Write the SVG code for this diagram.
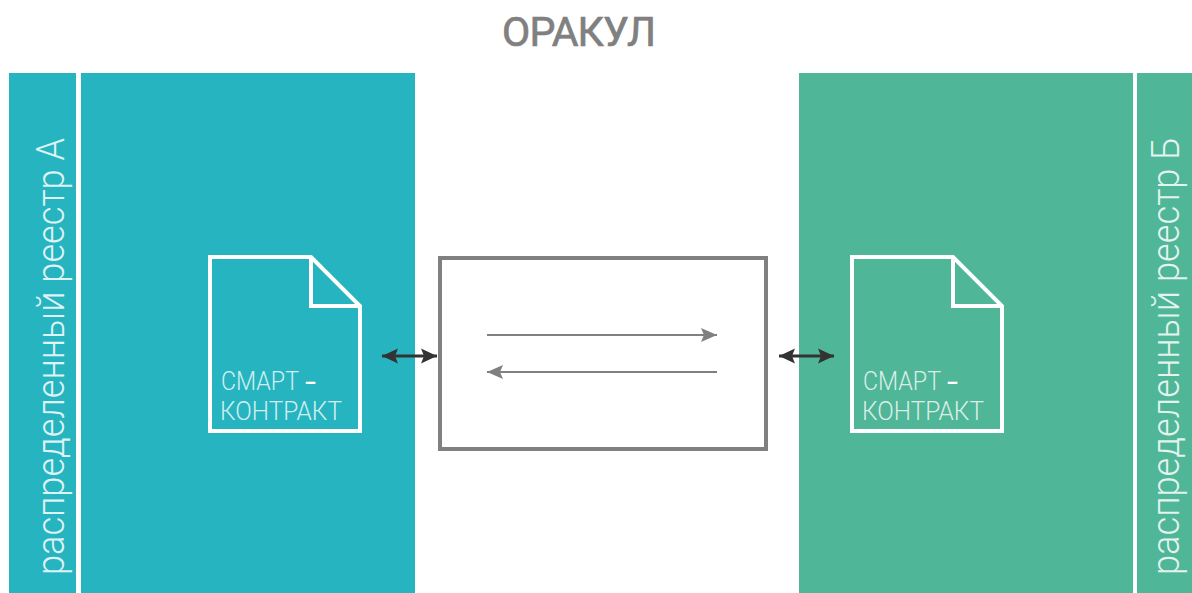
<svg xmlns="http://www.w3.org/2000/svg" width="1192" height="593" viewBox="0 0 1192 593">
<style>
.t{fill:#26b5c0}.g{fill:#50b698}
.doc{fill:none;stroke:#fff;stroke-width:4;stroke-linejoin:miter}
.lbl{font-family:"Roboto","Liberation Sans",sans-serif;font-weight:300;font-size:25px;fill:#fff;fill-opacity:.8}
.dash{font-family:"Roboto","Liberation Sans",sans-serif;font-weight:400;font-size:30px;fill:#fff}
.v{font-family:"Roboto","Liberation Sans",sans-serif;font-weight:300;font-size:38px;fill:#fff;fill-opacity:.85}
.c1{stroke:#808080;stroke-width:2.2;fill:none}
.c2{stroke:#333;stroke-width:3;fill:none}
</style>
<defs>
<marker id="ag" markerUnits="userSpaceOnUse" markerWidth="18" markerHeight="16" refX="16" refY="7" orient="auto-start-reverse"><path d="M0 0L16 7L0 14L3 7Z" fill="#808080"/></marker>
<marker id="ad" markerUnits="userSpaceOnUse" markerWidth="18" markerHeight="18" refX="16" refY="8" orient="auto-start-reverse"><path d="M0 0.5L16 8L0 15.5L3 8Z" fill="#333"/></marker>
</defs>
<rect width="1192" height="593" fill="#fff"/>
<text x="579" y="46" text-anchor="middle" style="font-family:'Roboto','Liberation Sans',sans-serif;font-weight:400;font-size:41px;fill:#808080;stroke:#808080;stroke-width:.7" textLength="154" lengthAdjust="spacing">ОРАКУЛ</text>
<g id="ledger-a"><rect class="t" x="9" y="73" width="67" height="520"/>
<text class="v" transform="translate(64 575) rotate(-90)" textLength="437" lengthAdjust="spacingAndGlyphs">распределенный реестр А</text></g>
<g id="panel-a"><rect class="t" x="81" y="73" width="334" height="520"/></g>
<g id="contract-a"><path class="doc" d="M210 257H311L360 306V431H210Z M311 257V306H360"/>
<text class="lbl" x="221" y="390" textLength="78" lengthAdjust="spacingAndGlyphs">СМАРТ</text><text class="dash" x="305" y="392" textLength="11" lengthAdjust="spacingAndGlyphs">-</text>
<text class="lbl" x="220" y="420" textLength="122" lengthAdjust="spacingAndGlyphs">КОНТРАКТ</text></g>
<g id="oracle"><rect x="440" y="258" width="326" height="191" fill="#fff" stroke="#808080" stroke-width="4"/></g>
<g id="panel-b"><rect class="g" x="799" y="73" width="334" height="520"/></g>
<g id="ledger-b"><rect class="g" x="1137" y="73" width="55" height="520"/>
<text class="v" transform="translate(1179 575) rotate(-90)" textLength="438" lengthAdjust="spacingAndGlyphs">распределенный реестр Б</text></g>
<g id="contract-b"><path class="doc" d="M852 257H953L1002 306V431H852Z M953 257V306H1002"/>
<text class="lbl" x="863" y="390" textLength="78" lengthAdjust="spacingAndGlyphs">СМАРТ</text><text class="dash" x="947" y="392" textLength="11" lengthAdjust="spacingAndGlyphs">-</text>
<text class="lbl" x="862" y="420" textLength="122" lengthAdjust="spacingAndGlyphs">КОНТРАКТ</text></g>
<g id="connectors">
<line class="c1" x1="487" y1="335" x2="717" y2="335" marker-end="url(#ag)"/>
<line class="c1" x1="717" y1="372" x2="487" y2="372" marker-end="url(#ag)"/>
<line class="c2" x1="382" y1="356" x2="437" y2="356" marker-start="url(#ad)" marker-end="url(#ad)"/>
<line class="c2" x1="779" y1="356" x2="834" y2="356" marker-start="url(#ad)" marker-end="url(#ad)"/>
</g>
</svg>
